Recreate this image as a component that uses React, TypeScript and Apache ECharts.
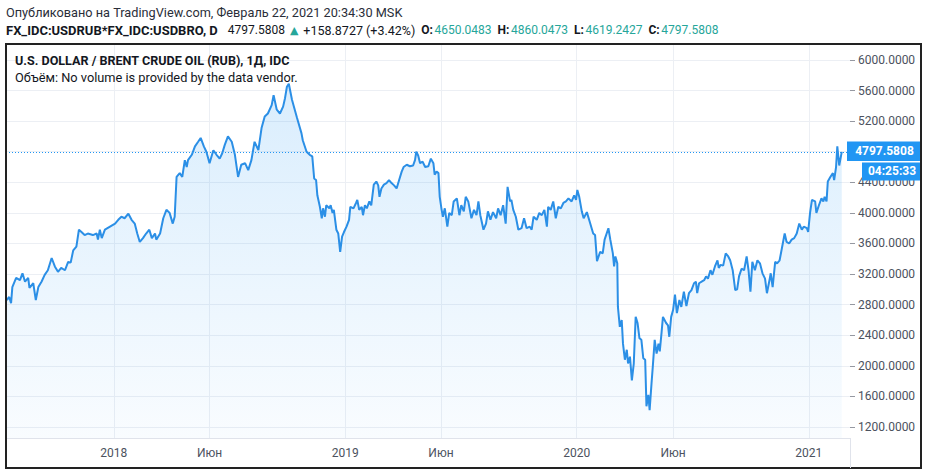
import React, { useEffect, useRef } from 'react';
import * as echarts from 'echarts';

// ---------- texts ----------
const headerLine1 = 'Опубликовано на TradingView.com, Февраль 22, 2021 20:34:30 MSK';
const symbolLabel = 'FX_IDC:USDRUB*FX_IDC:USDBRO, D';
const lastPrice = 4797.5808;
const priceChange = '+158.8727 (+3.42%)';
const ohlcLabels = ['O:', 'H:', 'L:', 'C:'];
const ohlcValues = [4650.0483, 4860.0473, 4619.2427, 4797.5808];
const legendTitle = 'U.S. DOLLAR / BRENT CRUDE OIL (RUB), 1Д, IDC';
const volumeNote = 'Объём: No volume is provided by the data vendor.';
const countdown = '04:25:33';

// ---------- axes ----------
const yTicks = [1200, 1600, 2000, 2400, 2800, 3200, 3600, 4000, 4400, 4800, 5200, 5600, 6000];
const yMin = 1056;
const yMax = 6209;
const xMin = '2017-07-15';
const xMax = '2021-03-07';
const xTickDates = ['2018-01-01', '2018-06-01', '2019-01-01', '2019-06-01', '2020-01-01', '2020-06-01', '2021-01-01'];
const xTickLabels = ['2018', 'Июн', '2019', 'Июн', '2020', 'Июн', '2021'];

// ---------- price series (month-day, value) per year ----------
const prices2017: [string, number][] = [
  ['07-16', 2860], ['07-20', 2900], ['07-23', 2820], ['07-25', 3030], ['07-31', 3150],
  ['08-06', 3120], ['08-10', 3210], ['08-14', 3100], ['08-19', 3150], ['08-21', 3020], ['08-27', 3080], ['08-31', 2860],
  ['09-04', 3030], ['09-09', 3100], ['09-14', 3190], ['09-19', 3250], ['09-25', 3410], ['09-30', 3300],
  ['10-05', 3230], ['10-10', 3280], ['10-16', 3250], ['10-21', 3360], ['10-25', 3350], ['10-29', 3510],
  ['11-03', 3560], ['11-07', 3780], ['11-11', 3750], ['11-16', 3710], ['11-21', 3730], ['11-29', 3710],
  ['12-05', 3730], ['12-07', 3650], ['12-10', 3780], ['12-13', 3670], ['12-18', 3780], ['12-26', 3820],
];
const prices2018: [string, number][] = [
  ['01-03', 3860], ['01-08', 3910], ['01-13', 3950], ['01-18', 3930], ['01-24', 3990], ['01-29', 3910],
  ['02-03', 3860], ['02-07', 3730], ['02-11', 3620], ['02-16', 3670], ['02-21', 3730], ['02-26', 3780],
  ['03-02', 3670], ['03-07', 3730], ['03-09', 3650], ['03-15', 3730], ['03-20', 3930], ['03-25', 4040], ['03-30', 4000],
  ['04-04', 3860], ['04-07', 3950], ['04-10', 4470], ['04-15', 4520], ['04-19', 4470], ['04-23', 4690], ['04-26', 4600], ['04-28', 4690],
  ['05-04', 4760], ['05-09', 4870], ['05-14', 4930], ['05-18', 4980], ['05-23', 4870], ['05-27', 4800],
  ['06-01', 4650], ['06-07', 4820], ['06-12', 4760], ['06-17', 4710], ['06-21', 4780], ['06-25', 4890], ['06-30', 5000],
  ['07-06', 4930], ['07-11', 4760], ['07-16', 4470], ['07-21', 4630], ['07-27', 4650],
  ['08-01', 4560], ['08-06', 4690], ['08-11', 4930], ['08-17', 4820], ['08-22', 5110], ['08-27', 5260],
  ['09-01', 5300], ['09-07', 5410], ['09-10', 5540], ['09-15', 5350], ['09-20', 5300], ['09-25', 5390], ['09-28', 5500],
  ['10-01', 5650], ['10-04', 5690], ['10-09', 5480], ['10-17', 5240], ['10-24', 5040], ['10-26', 4950],
  ['11-01', 4800], ['11-06', 4760], ['11-10', 4740], ['11-13', 4450], ['11-16', 4430], ['11-18', 4230], ['11-22', 4080], ['11-25', 3930], ['11-27', 4060], ['11-30', 3950],
  ['12-02', 4100], ['12-07', 4060], ['12-09', 4100], ['12-12', 4000], ['12-14', 4040], ['12-18', 3780], ['12-21', 3730], ['12-24', 3490], ['12-27', 3690], ['12-30', 3750],
];
const prices2019: [string, number][] = [
  ['01-03', 3820], ['01-07', 3910], ['01-09', 4080], ['01-14', 4060], ['01-18', 4130], ['01-20', 4170], ['01-23', 4040], ['01-27', 4080], ['01-29', 3970],
  ['02-01', 4100], ['02-04', 4060], ['02-08', 4150], ['02-11', 4100], ['02-15', 4370], ['02-19', 4410], ['02-22', 4360], ['02-24', 4210], ['02-27', 4320],
  ['03-03', 4370], ['03-07', 4390], ['03-11', 4430], ['03-15', 4390], ['03-19', 4360], ['03-23', 4320], ['03-27', 4430], ['03-31', 4540],
  ['04-03', 4600], ['04-08', 4630], ['04-13', 4610], ['04-18', 4620], ['04-21', 4690], ['04-23', 4800], ['04-26', 4750], ['04-29', 4650],
  ['05-03', 4670], ['05-07', 4600], ['05-12', 4610], ['05-16', 4710], ['05-20', 4650], ['05-22', 4500], ['05-25', 4540], ['05-28', 4520], ['05-30', 4210],
  ['06-02', 4040], ['06-04', 3950], ['06-07', 4060], ['06-11', 3820], ['06-14', 4000], ['06-18', 3970], ['06-21', 4150], ['06-26', 4190], ['06-30', 3970],
  ['07-03', 4100], ['07-07', 4020], ['07-10', 4210], ['07-14', 4150], ['07-19', 3930], ['07-23', 4040], ['07-27', 3970], ['07-30', 4150],
  ['08-02', 3970], ['08-07', 3780], ['08-11', 3860], ['08-14', 4020], ['08-18', 3910], ['08-22', 4010], ['08-27', 3930], ['08-30', 4060],
  ['09-03', 3970], ['09-07', 4100], ['09-11', 3860], ['09-14', 4340], ['09-18', 4150], ['09-20', 4170], ['09-23', 4040], ['09-27', 3950],
  ['10-01', 3780], ['10-06', 3800], ['10-10', 3930], ['10-14', 3800], ['10-19', 3820], ['10-22', 3780], ['10-25', 3950], ['10-30', 3910],
  ['11-03', 4000], ['11-07', 3970], ['11-11', 4040], ['11-15', 3820], ['11-17', 4080], ['11-21', 4040], ['11-25', 4150], ['11-29', 3930],
  ['12-03', 4080], ['12-07', 4060], ['12-11', 4130], ['12-15', 4150], ['12-19', 4190], ['12-24', 4150], ['12-28', 4230], ['12-31', 4170],
];
const prices2020: [string, number][] = [
  ['01-02', 4300], ['01-05', 4210], ['01-09', 4020], ['01-12', 3930], ['01-17', 4010], ['01-22', 3870], ['01-27', 3730], ['01-30', 3710],
  ['02-02', 3370], ['02-07', 3490], ['02-11', 3470], ['02-14', 3650], ['02-20', 3800], ['02-23', 3650], ['02-27', 3470], ['02-29', 3300],
  ['03-02', 3430], ['03-05', 3340], ['03-06', 2770], ['03-09', 2510], ['03-12', 2600], ['03-14', 2290], ['03-17', 2080], ['03-20', 2210], ['03-22', 2030], ['03-25', 2120], ['03-28', 1810], ['03-31', 2030],
  ['04-03', 2640], ['04-06', 2560], ['04-09', 2360], ['04-12', 2340], ['04-15', 2100], ['04-18', 2080], ['04-20', 1470], ['04-23', 1620], ['04-25', 1420], ['04-28', 1770], ['04-30', 1990],
  ['05-03', 2340], ['05-06', 2160], ['05-09', 2290], ['05-11', 2190], ['05-14', 2450], ['05-16', 2640], ['05-21', 2560], ['05-24', 2530], ['05-26', 2380], ['05-29', 2640],
  ['06-01', 2730], ['06-04', 2930], ['06-07', 2690], ['06-11', 2860], ['06-14', 2770], ['06-18', 2970], ['06-22', 2780], ['06-26', 2950], ['06-30', 2990],
  ['07-04', 3080], ['07-07', 3100], ['07-09', 2950], ['07-12', 3080], ['07-16', 3100], ['07-20', 3120], ['07-23', 3170], ['07-26', 3140], ['07-30', 3250],
  ['08-02', 3190], ['08-06', 3300], ['08-10', 3380], ['08-12', 3280], ['08-15', 3320], ['08-19', 3310], ['08-23', 3470], ['08-27', 3430], ['08-30', 3380],
  ['09-03', 3250], ['09-07', 2990], ['09-10', 3000], ['09-13', 3170], ['09-17', 3270], ['09-21', 3250], ['09-25', 3430], ['09-28', 3250],
  ['10-01', 2970], ['10-04', 3360], ['10-08', 3250], ['10-12', 3380], ['10-16', 3340], ['10-20', 3210], ['10-24', 3140], ['10-27', 2950], ['10-31', 3120],
  ['11-02', 3210], ['11-05', 3030], ['11-09', 3360], ['11-12', 3340], ['11-16', 3380], ['11-21', 3600], ['11-24', 3730], ['11-27', 3620],
  ['12-01', 3600], ['12-05', 3650], ['12-09', 3670], ['12-13', 3730], ['12-17', 3860], ['12-21', 3780], ['12-24', 3820], ['12-29', 3800], ['12-31', 3750],
];
const prices2021: [string, number][] = [
  ['01-03', 4000], ['01-06', 4170], ['01-11', 4150], ['01-13', 4000], ['01-17', 4100], ['01-21', 4190], ['01-24', 4150], ['01-26', 4210], ['01-29', 4150], ['01-31', 4410],
  ['02-04', 4470], ['02-08', 4520], ['02-10', 4430], ['02-13', 4600], ['02-15', 4870], ['02-18', 4620], ['02-22', 4797.5808],
];

const FONT = 'Roboto, "Noto Sans", "DejaVu Sans", sans-serif';
const TEAL = '#26a69a';
const DARK = '#131722';
const BLUE = '#2196f3';

const toTime = (s: string) => echarts.time.parse(s).getTime();

function buildSeries(): [number, number][] {
  const years: [number, [string, number][]][] = [
    [2017, prices2017], [2018, prices2018], [2019, prices2019], [2020, prices2020], [2021, prices2021],
  ];
  const out: [number, number][] = [];
  years.forEach(([y, arr]) => arr.forEach(([md, v]) => out.push([toTime(`${y}-${md}`), v])));
  return out;
}

let measureCtx: CanvasRenderingContext2D | null = null;
function measure(text: string, size: number, weight: string): number {
  if (!measureCtx) measureCtx = document.createElement('canvas').getContext('2d');
  if (!measureCtx) return text.length * size * 0.55;
  measureCtx.font = `${weight} ${size}px ${FONT}`;
  return measureCtx.measureText(text).width;
}
// font size giving the wanted text width
function fitSize(text: string, width: number, weight: string): number {
  const w = measure(text, 12, weight);
  return Math.max(9, Math.min(15, (12 * width) / w));
}

function txt(id: string, x: number, y: number, text: string, opts: any = {}) {
  return {
    type: 'text', id, x, y, z: opts.z || 80, silent: true,
    style: {
      text,
      fill: opts.fill || DARK,
      fontSize: opts.fontSize || 12,
      fontFamily: FONT,
      fontWeight: opts.fontWeight || 'normal',
      textAlign: opts.align || 'left',
      textVerticalAlign: 'middle',
    },
  };
}

function bar(id: string, x: number, y: number, w: number, h: number, fill: string, z = 90) {
  return { type: 'rect', id, z, silent: true, shape: { x, y, width: w, height: h }, style: { fill } };
}

export default function App() {
  const ref = useRef<HTMLDivElement>(null);

  useEffect(() => {
    if (!ref.current) return;
    const chart = echarts.init(ref.current, null, { renderer: 'svg' });
    const seriesData = buildSeries();
    const xTickTimes = xTickDates.map(toTime);
    const fmt4 = (v: number) => v.toFixed(4);

    chart.setOption({
      animation: false,
      backgroundColor: '#ffffff',
      grid: { left: 6, right: 78, top: 44, bottom: 36, containLabel: false },
      xAxis: {
        type: 'value',
        min: toTime(xMin),
        max: toTime(xMax),
        axisLine: { show: true, lineStyle: { color: '#e0e3eb', width: 1 } },
        axisTick: { show: false, customValues: xTickTimes },
        axisLabel: {
          customValues: xTickTimes,
          color: '#4c525e',
          fontFamily: FONT,
          fontSize: 12,
          margin: 9,
          formatter: (v: number) => {
            let best = -1;
            let bd = Infinity;
            xTickTimes.forEach((t, i) => {
              const d = Math.abs(t - v);
              if (d < bd) { bd = d; best = i; }
            });
            return bd < 86400000 * 3 ? xTickLabels[best] : '';
          },
        },
        splitLine: { show: true, lineStyle: { color: '#eceff4', width: 1 } },
      },
      yAxis: {
        type: 'value',
        position: 'right',
        min: yMin,
        max: yMax,
        axisLine: { show: false },
        axisTick: { show: true, customValues: yTicks, length: 5, lineStyle: { color: '#9598a1' } },
        axisLabel: {
          customValues: yTicks,
          color: '#4c525e',
          fontFamily: FONT,
          fontSize: 12,
          margin: 8,
          formatter: (v: number) => v.toFixed(4),
        },
        splitLine: { show: true, lineStyle: { color: '#eceff4', width: 1 } },
      },
      series: [
        {
          type: 'line',
          data: seriesData,
          showSymbol: false,
          symbol: 'none',
          lineStyle: { color: '#2b8fe6', width: 2 },
          areaStyle: {
            color: new echarts.graphic.LinearGradient(0, 0, 0, 1, [
              { offset: 0, color: 'rgba(33,150,243,0.24)' },
              { offset: 1, color: 'rgba(33,150,243,0.04)' },
            ]),
          },
          markLine: {
            silent: true,
            symbol: ['none', 'none'],
            label: { show: false },
            lineStyle: { type: [1, 2], color: BLUE, width: 1 },
            data: [{ yAxis: lastPrice }],
          },
        },
      ],
    });

    // ----- header line 2 laid out segment by segment -----
    const segs: { id: string; text: string; weight: string; fill: string; size: number; gap: number }[] = [
      { id: 'sym', text: symbolLabel, weight: 'bold', fill: DARK, size: fitSize(symbolLabel, 212, 'bold'), gap: 10 },
      { id: 'lp', text: fmt4(lastPrice), weight: 'normal', fill: DARK, size: 12, gap: 5 },
      { id: 'tri', text: '▲', weight: 'normal', fill: TEAL, size: 11, gap: 5 },
      { id: 'chg', text: priceChange, weight: 'normal', fill: DARK, size: 12.5, gap: 6 },
    ];
    ohlcLabels.forEach((l, i) => {
      segs.push({ id: 'ol' + i, text: l, weight: 'bold', fill: DARK, size: 12, gap: 1.5 });
      segs.push({ id: 'ov' + i, text: fmt4(ohlcValues[i]), weight: 'normal', fill: TEAL, size: 12, gap: 6 });
    });
    const header2: any[] = [];
    let cx = 6;
    segs.forEach((s) => {
      header2.push(txt(s.id, cx, 30, s.text, { fontWeight: s.weight, fill: s.fill, fontSize: s.size }));
      cx += measure(s.text, s.size, s.weight) + s.gap;
    });

    const py = chart.convertToPixel({ yAxisIndex: 0 }, lastPrice) as number;
    const gx = chart.convertToPixel({ xAxisIndex: 0 }, toTime(xMax)) as number;

    chart.setOption({
      graphic: [
        txt('h1', 6, 12, headerLine1, { fontSize: fitSize(headerLine1, 397, 'normal'), fill: '#2a2e39' }),
        ...header2,
        txt('lg1', 15, 60, legendTitle, { fontWeight: 'bold', fontSize: fitSize(legendTitle, 275, 'bold') }),
        txt('lg2', 15, 77, volumeNote, { fontSize: fitSize(volumeNote, 283, 'normal') }),
        bar('pbox', gx - 3, py - 10.5, 75, 19.5, BLUE, 85),
        txt('ptxt', gx + 34.5, py - 0.5, fmt4(lastPrice), { fill: '#ffffff', fontWeight: 'bold', align: 'center', z: 95 }),
        bar('cbox', gx + 12, py + 10.5, 60, 18, BLUE, 85),
        txt('ctxt', gx + 42, py + 19.5, countdown, { fill: '#ffffff', fontWeight: 'bold', align: 'center', z: 95 }),
      ],
    });
    return () => chart.dispose();
  }, []);

  return (
    <div style={{ position: 'fixed', left: 0, top: 0, width: 928, height: 474, background: '#ffffff' }}>
      <div ref={ref} style={{ position: 'absolute', left: 0, top: 0, width: 928, height: 474 }} />
      {/* chart pane frame */}
      <div
        style={{
          position: 'absolute', left: 5, top: 43, width: 917, height: 426,
          border: '2px solid #222222', boxSizing: 'border-box', pointerEvents: 'none',
        }}
      />
      {/* separator between time scale and price scale */}
      <div
        style={{
          position: 'absolute', left: 850, top: 438, width: 1, height: 30,
          background: '#e0e3eb', pointerEvents: 'none',
        }}
      />
    </div>
  );
}
